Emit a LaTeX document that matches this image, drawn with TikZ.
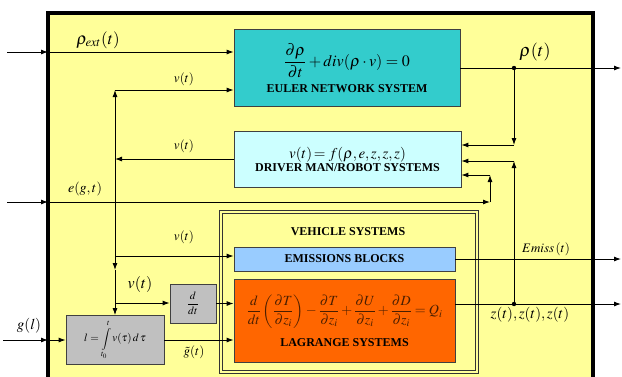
\documentclass[tikz,border=0pt]{standalone}
\usepackage{mathptmx}
\usepackage{fontspec}
\setmainfont{Liberation Serif}
\usetikzlibrary{arrows.meta}
\definecolor{yelbg}{HTML}{FFFF99}
\definecolor{eulerc}{HTML}{33CCCC}
\definecolor{driverc}{HTML}{CCFFFF}
\definecolor{emisc}{HTML}{99CCFF}
\definecolor{lagrc}{HTML}{FF6600}
\definecolor{grayc}{HTML}{C0C0C0}
\definecolor{brownc}{HTML}{4A1E00}
\begin{document}
\begin{tikzpicture}[x=1pt, y=-1pt, >={Latex[length=7pt,width=5pt]}, line width=0.9pt,
  blk/.style={draw=black!75, line width=0.8pt, inner sep=0pt, align=center},
  captxt/.style={font=\fontsize{12}{14}\selectfont\bfseries},
  lbl/.style={inner sep=0pt}]
\useasboundingbox (0,0) rectangle (622,376);
% outer frame
\fill[yelbg] (48,13) rectangle (593,380);
\draw[line width=3.5pt] (48,380) -- (48,13) -- (593,13) -- (593,380);
% blocks
\node[blk, fill=eulerc, minimum width=226, minimum height=77] (euler) at (347,68)
  {{\fontsize{16}{18}\selectfont$\displaystyle\frac{\partial\rho}{\partial t}+div(\rho\cdot v)=0$}\\[6pt]
   {\fontsize{12}{14}\selectfont\bfseries EULER NETWORK SYSTEM}};
\node[blk, fill=driverc, minimum width=227, minimum height=56] (driver) at (347.5,159)
  {{\fontsize{15}{17}\selectfont$v(t)\!=f(\rho,e,z,z,z)$}\\[1pt]
   {\fontsize{12}{14}\selectfont\bfseries DRIVER MAN/ROBOT SYSTEMS}};
\node[draw=black!80, line width=0.7pt, double=yelbg, double distance=1.8pt,
  minimum width=256, minimum height=160, inner sep=0pt] (veh) at (349,292) {};
\node[lbl, captxt] (vehtitle) at (348,232) {VEHICLE SYSTEMS};
\node[blk, fill=emisc, minimum width=221, minimum height=24, captxt] (emis) at (344.5,259) {EMISSIONS BLOCKS};
\node[blk, fill=lagrc, minimum width=221, minimum height=83] (lagr) at (344.5,320.5)
  {{\fontsize{14}{16}\selectfont\color{brownc}$\displaystyle\frac{d}{dt}\left(\frac{\partial T}{\partial z_i}\right)-\frac{\partial T}{\partial z_i}+\frac{\partial U}{\partial z_i}+\frac{\partial D}{\partial z_i}=Q_i$}\\[9pt]
   {\fontsize{12}{14}\selectfont\bfseries LAGRANGE SYSTEMS}};
\node[blk, fill=grayc, minimum width=46, minimum height=39] (ddt) at (193,303.5)
  {\fontsize{11}{12}\selectfont$\displaystyle\frac{d}{dt}$};
\node[blk, fill=grayc, minimum width=98, minimum height=49] (integ) at (115,340)
  {\fontsize{11}{12}\selectfont$l=\displaystyle\int\limits_{t_0}^{t} v(\tau)\,d\,\tau$};
% points of the wiring
\coordinate (rin) at (7,52);
\coordinate (rbd) at (48,52);
\coordinate (vtop) at (115,90);
\coordinate (vj) at (115,159);
\coordinate (vem) at (115,256);
\coordinate (vmid) at (115,270);
\coordinate (vdd) at (115,303);
\coordinate (ein) at (7,202);
\coordinate (ebd) at (48,202);
\coordinate (ecor) at (490,202);
\coordinate (etop) at (490,175);
\coordinate (gin) at (3,340);
\coordinate (gbd) at (48,340);
\coordinate (rdot) at (514,68);
\coordinate (rbot) at (514,145);
\coordinate (rout) at (621,68);
\coordinate (zdot) at (514,304);
\coordinate (ztop) at (514,161);
\coordinate (zout) at (621,304);
\coordinate (emout) at (621,259);
% inputs
\draw[->] (rin) -- (rbd);
\draw[->] (rbd) -- (euler.west |- rbd);
\draw[->] (ein) -- (ebd);
\draw[->] (ebd) -- (ecor);
\draw[->] (ecor) -- (etop);
\draw[->] (etop) -- (driver.east |- etop);
\draw[->] (gin) -- (gbd);
\draw[->] (gbd) -- (integ.west |- gbd);
% speed v(t)
\draw[->] (driver.west) -- (vj);
\draw[->] (vj) -- (vtop);
\draw[->] (vtop) -- (euler.west |- vtop);
\draw (vj) -- (vem);
\draw[->] (vem) -- (vmid);
\draw[->] (vmid) -- (integ.north);
\draw[->] (vem) -- (emis.west |- vem);
\draw[->] (vdd) -- (ddt.west |- vdd);
\draw[->] (ddt.east) -- (lagr.west |- ddt.east);
\draw[->] (integ.east) -- (lagr.west |- integ.east);
% outputs
\draw[->] (euler.east) -- (rout);
\fill (rdot) circle (2.2pt);
\draw[->] (rdot) -- (rbot);
\draw[->] (rbot) -- (driver.east |- rbot);
\draw[->] (emis.east) -- (emout);
\draw[->] (lagr.east |- zdot) -- (zout);
\fill (zdot) circle (2.2pt);
\draw[->] (zdot) -- (ztop);
\draw[->] (ztop) -- (driver.east |- ztop);
% labels
\node[lbl, font=\fontsize{17}{18}\selectfont] (lrhoext) at (98,40) {$\rho_{ext}(t)$};
\node[lbl, font=\fontsize{13}{14}\selectfont] (lv1) at (184,79) {$v(t)$};
\node[lbl, font=\fontsize{13}{14}\selectfont] (lv2) at (184,146) {$v(t)$};
\node[lbl, font=\fontsize{13}{14}\selectfont] (lv3) at (184,237) {$v(t)$};
\node[lbl, font=\fontsize{16}{18}\selectfont] (lv4) at (140,284) {$v(t)$};
\node[lbl, font=\fontsize{14}{16}\selectfont] (le) at (85,189) {$e(g,t)$};
\node[lbl, font=\fontsize{15}{17}\selectfont] (lg) at (29,326) {$g(l)$};
\node[lbl, font=\fontsize{13}{14}\selectfont] (lgt) at (194,352) {$\tilde{g}(t)$};
\node[lbl, font=\fontsize{18}{20}\selectfont] (lrho) at (535,52) {$\rho(t)$};
\node[lbl, font=\fontsize{13}{14}\selectfont] (lemis) at (546,249) {$Emiss\,(t)$};
\node[lbl, font=\fontsize{15}{17}\selectfont] (lz) at (530,315) {$z(t),z(t),z(t)$};
\end{tikzpicture}
\end{document}
